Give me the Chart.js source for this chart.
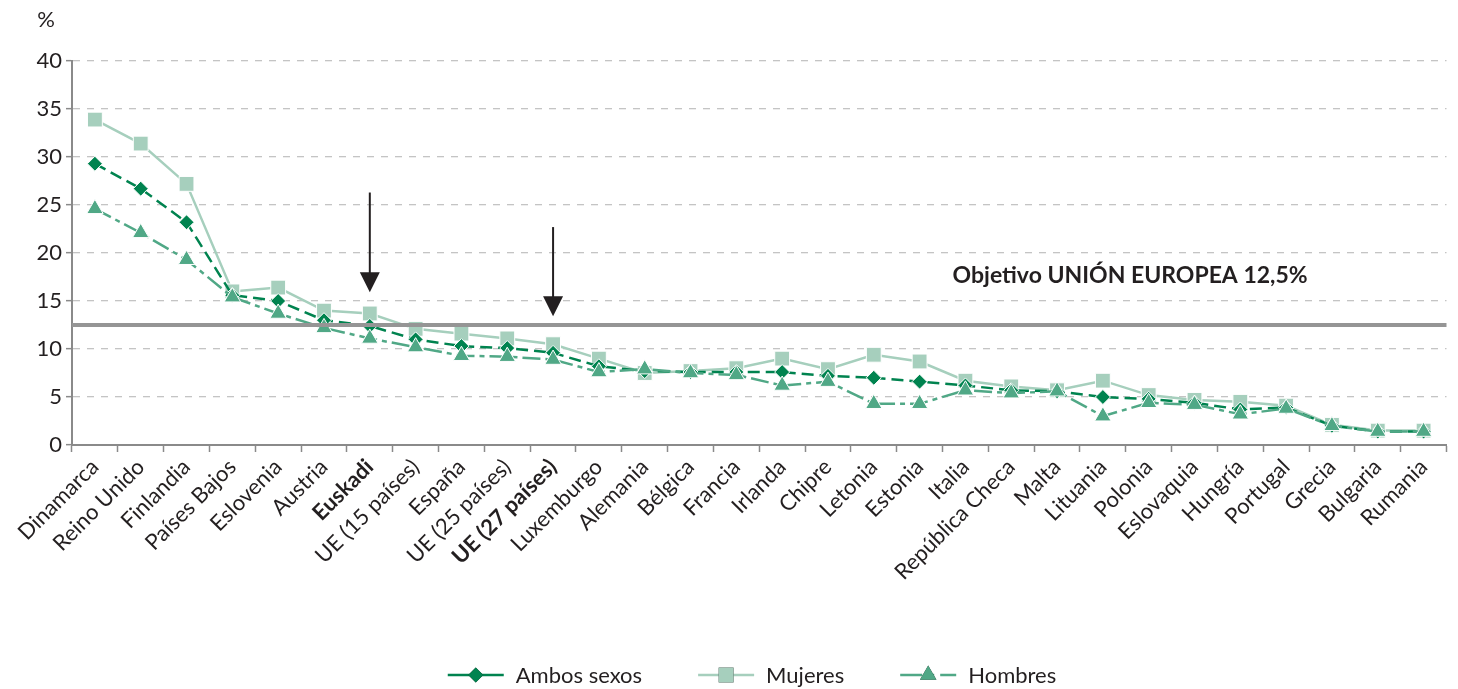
<!DOCTYPE html>
<html><head><meta charset="utf-8">
<script src="https://cdn.jsdelivr.net/npm/chart.js@4.4.1/dist/chart.umd.min.js"></script>
<style>html,body{margin:0;padding:0;background:#fff;}#wrap{width:1458px;height:689px;position:relative;}</style>
</head><body><div id="wrap"><canvas id="c"></canvas></div>
<script>
const categories = ['Dinamarca','Reino Unido','Finlandia','Países Bajos','Eslovenia','Austria','Euskadi','UE (15 países)','España','UE (25 países)','UE (27 países)','Luxemburgo','Alemania','Bélgica','Francia','Irlanda','Chipre','Letonia','Estonia','Italia','República Checa','Malta','Lituania','Polonia','Eslovaquia','Hungría','Portugal','Grecia','Bulgaria','Rumania'];
const boldCategories = ['Euskadi','UE (27 países)'];
const ambosSexos = [29.3,26.7,23.2,15.6,15.0,13.0,12.4,11.0,10.3,10.1,9.6,8.2,7.7,7.6,7.6,7.6,7.2,7.0,6.6,6.2,5.7,5.6,5.0,4.8,4.4,3.7,3.9,2.0,1.4,1.4];
const mujeres = [33.9,31.4,27.2,16.0,16.4,14.0,13.7,12.1,11.6,11.1,10.5,9.0,7.5,7.7,8.0,9.0,7.9,9.4,8.7,6.7,6.1,5.7,6.7,5.2,4.7,4.5,4.1,2.1,1.5,1.5];
const hombres = [24.6,22.1,19.3,15.4,13.7,12.2,11.1,10.2,9.3,9.2,8.9,7.6,7.9,7.5,7.3,6.2,6.6,4.3,4.3,5.7,5.4,5.6,3.0,4.4,4.2,3.2,3.8,2.0,1.4,1.4];
const seriesNames = ['Ambos sexos','Mujeres','Hombres'];
const yMin = 0, yMax = 40, yStep = 5;
const unitLabel = '%';
const targetValue = 12.5;
const targetLabel = 'Objetivo UNIÓN EUROPEA 12,5%';
const targetLabelAt = {index: 18.72, value: 16.9};
const arrowMarks = [{category:'Euskadi', from:26.3, to:15.9},{category:'UE (27 países)', from:22.7, to:13.4}];

const FONT = 'Lato, "Noto Sans", sans-serif';
const TEXT = '#231f20';
const C_AMBOS = '#00834f', C_MUJ = '#a6cfbd', C_HOM = '#50a886';

const overlay = {
  id: 'overlay',
  afterDatasetsDraw(chart) {
    const {ctx, chartArea: a, scales: {x, y}} = chart;
    ctx.save();
    const ty = y.getPixelForValue(targetValue);
    ctx.strokeStyle = '#959595'; ctx.lineWidth = 4;
    ctx.beginPath(); ctx.moveTo(a.left, ty); ctx.lineTo(a.right, ty); ctx.stroke();
    ctx.font = 'bold 23px ' + FONT; ctx.fillStyle = TEXT;
    ctx.textAlign = 'left'; ctx.textBaseline = 'alphabetic';
    ctx.fillText(targetLabel, x.getPixelForValue(targetLabelAt.index), y.getPixelForValue(targetLabelAt.value));
    arrowMarks.forEach(m => {
      const px = x.getPixelForValue(categories.indexOf(m.category));
      const y1 = y.getPixelForValue(m.from), y2 = y.getPixelForValue(m.to);
      ctx.strokeStyle = TEXT; ctx.lineWidth = 2;
      ctx.beginPath(); ctx.moveTo(px, y1); ctx.lineTo(px, y2 - 15); ctx.stroke();
      ctx.fillStyle = TEXT;
      ctx.beginPath(); ctx.moveTo(px - 10, y2 - 20); ctx.lineTo(px + 10, y2 - 20); ctx.lineTo(px, y2); ctx.closePath(); ctx.fill();
    });
    ctx.restore();
  },
  afterDraw(chart) {
    const {ctx, chartArea: a} = chart;
    ctx.save();
    ctx.font = '22px ' + FONT; ctx.fillStyle = TEXT;
    ctx.textAlign = 'center'; ctx.textBaseline = 'middle';
    ctx.fillText(unitLabel, a.left - 26, 20);
    // legend
    const lineLen = 56, gapTxt = 12, gapItem = 56, cy = 675;
    ctx.textAlign = 'left';
    const ds = chart.data.datasets;
    const widths = ds.map(d => ctx.measureText(d.label).width);
    let total = 0; ds.forEach((d, i) => { total += lineLen + gapTxt + widths[i]; }); total += gapItem * (ds.length - 1);
    let xx = 752 - total / 2;
    ds.forEach((d, i) => {
      ctx.save();
      ctx.strokeStyle = d.borderColor; ctx.lineWidth = 2.5; ctx.setLineDash(i === 2 ? [22, 6, 6, 6] : []);
      ctx.beginPath(); ctx.moveTo(xx, cy); ctx.lineTo(xx + lineLen, cy); ctx.stroke();
      ctx.setLineDash([]);
      Chart.helpers.drawPoint(ctx, {pointStyle: d.pointStyle, radius: d.pointRadius, borderWidth: 0, rotation: 0}, xx + lineLen / 2, cy);
      ctx.fillStyle = d.borderColor; ctx.fill();
      ctx.restore();
      ctx.fillStyle = TEXT;
      ctx.fillText(d.label, xx + lineLen + gapTxt, cy + 1);
      xx += lineLen + gapTxt + widths[i] + gapItem;
    });
    ctx.restore();
  }
};

const mk = (label, data, color, style, radius, dash, order) => ({
  label, data, borderColor: color, backgroundColor: color,
  pointBackgroundColor: color, pointBorderColor: '#ffffff', pointBorderWidth: 1,
  pointStyle: style, pointRadius: radius, pointHoverRadius: radius,
  borderWidth: 2.5, borderDash: dash, tension: 0, fill: false, order
});

new Chart(document.getElementById('c'), {
  type: 'line',
  data: {
    labels: categories,
    datasets: [
      mk(seriesNames[0], ambosSexos, C_AMBOS, 'rectRot', 7.5, [12, 6], 1),
      mk(seriesNames[1], mujeres, C_MUJ, 'rect', 10.5, [], 2),
      mk(seriesNames[2], hombres, C_HOM, 'triangle', 9.5, [18, 5, 5, 5], 0)
    ]
  },
  options: {
    responsive: true, maintainAspectRatio: false, animation: false,
    layout: {padding: {top: 61, right: 0, bottom: 0, left: 0}},
    plugins: {legend: {display: false}, tooltip: {enabled: false}},
    scales: {
      x: {
        type: 'category', offset: true,
        grid: {display: true, drawOnChartArea: false, offset: true, tickLength: 7, color: '#8a8a8a', tickColor: '#8a8a8a', tickWidth: 1.5},
        border: {color: '#8a8a8a', width: 2},
        ticks: {autoSkip: false, maxRotation: 45, minRotation: 45, padding: 2, color: TEXT,
          font: (c) => ({family: FONT, size: 22, weight: boldCategories.includes(categories[c.index]) ? 'bold' : 'normal'})},
        afterFit: (s) => { s.height = 244; }
      },
      y: {
        min: yMin, max: yMax,
        grid: {color: '#c4c4c4', lineWidth: 1.3, tickLength: 6, tickColor: '#8a8a8a', tickWidth: 1.5},
        border: {color: '#8a8a8a', width: 2, dash: [7, 7]},
        ticks: {stepSize: yStep, padding: 4, color: TEXT, font: {family: FONT, size: 22}},
        afterFit: (s) => { s.width = 72; }
      }
    }
  },
  plugins: [overlay]
});
</script></body></html>
